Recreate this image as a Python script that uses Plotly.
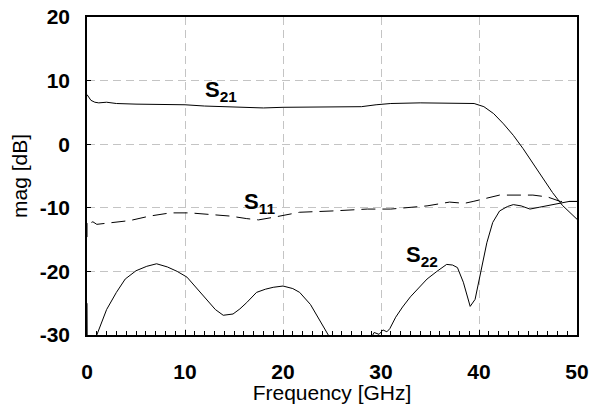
import plotly.graph_objects as go

# Frequency [GHz] / magnitude [dB]
s21_f = [0, 0.15, 0.4, 0.8, 1.2, 2, 3, 5, 8, 10, 12, 14, 16, 18, 20, 24, 28, 29.5, 31, 34, 37, 39.5,
         40.5, 41.5, 42.5, 43.5, 44.5, 45.5, 46.5, 47.5, 48.5, 49.3, 50]
s21_db = [7.8, 7.5, 6.9, 6.6, 6.5, 6.6, 6.4, 6.3, 6.3, 6.2, 6.0, 5.9, 5.9, 5.7, 5.8, 5.8, 5.9, 6.2, 6.4,
          6.5, 6.5, 6.4, 5.9, 4.8, 3.2, 1.4, -0.7, -3.0, -5.3, -7.6, -9.6, -10.7, -11.8]

s11_f = [0, 0, 0.3, 0.6, 1.0, 2.5, 3.9, 4.4, 6.4, 8.5, 10.5, 12.6, 14.6, 16.3, 17.5, 19, 21.7, 25,
         28.6, 31, 34.7, 37, 38.5, 39.4, 42.1, 45.5, 47, 48.3, 50]
s11_db = [-14.6, -12.1, -12.4, -12.2, -12.6, -12.3, -12.0, -12.0, -11.3, -10.8, -10.8, -11.0, -11.3,
          -11.7, -11.9, -11.5, -10.7, -10.5, -10.2, -10.2, -9.7, -9.1, -9.3, -9.0, -8.0, -8.0, -8.3,
          -9.0, -9.0]

s22_f = [0, 0.02, 0.9, 1.0, 2.0, 3.0, 3.9, 5.0, 6.1, 7.1, 8.2, 9.2, 10.2, 11.2, 12.2, 13.1, 13.9, 14.9,
         15.6, 16.3, 17.3, 18.2, 19.0, 20.0, 21.0, 21.7, 22.8, 23.7, 24.5, 25.0, 28.8, 29.3, 29.8,
         30.2, 30.6, 30.9, 31.5, 32.2, 33.0, 33.8, 34.7, 35.7, 36.7, 37.3, 37.8, 38.4, 38.8, 39.1,
         39.6, 40.3, 40.8, 41.4, 42.1, 42.9, 43.5, 44.3, 45.2, 46.2, 47.2, 48.3, 49.2, 50]
s22_db = [-25, -31, -31, -30.0, -26.0, -23.3, -21.2, -19.9, -19.2, -18.8, -19.3, -20.0, -20.9, -22.6,
          -24.4, -26.0, -26.9, -26.7, -25.9, -24.9, -23.3, -22.8, -22.5, -22.3, -22.7, -23.3, -25.2,
          -27.5, -29.6, -31, -31, -29.6, -29.9, -29.2, -29.5, -29.0, -27.2, -25.6, -24.0, -22.6,
          -21.2, -20.0, -18.9, -19.0, -19.4, -21.7, -24.0, -25.5, -24.4, -19.2, -15.5, -12.3, -10.5,
          -9.8, -9.5, -9.7, -10.2, -9.9, -9.6, -9.3, -9.0, -9.0]

x_ticks = [0, 10, 20, 30, 40, 50]
y_ticks = [-30, -20, -10, 0, 10, 20]

labels = [("S<sub>21</sub>", 11.8, 8.3), ("S<sub>11</sub>", 15.8, -9.3), ("S<sub>22</sub>", 32.3, -17.6)]

fig = go.Figure()
line = dict(color="black", width=1)
fig.add_trace(go.Scatter(x=s21_f, y=s21_db, mode="lines", line=line, name="S21"))
fig.add_trace(go.Scatter(x=s11_f, y=s11_db, mode="lines",
                         line=dict(color="black", width=1, dash="14px,7px"), name="S11"))
fig.add_trace(go.Scatter(x=s22_f, y=s22_db, mode="lines", line=line, name="S22"))

for txt, x, y in labels:
    fig.add_annotation(x=x, y=y, text=txt, showarrow=False, xanchor="left", yanchor="middle",
                       font=dict(family="Liberation Sans, Arial", size=22, color="black", weight="bold"))

grid = dict(showgrid=True, gridcolor="#c4c4c4", griddash="8px,5px", gridwidth=1)
fig.update_xaxes(range=[0, 50], tickvals=x_ticks, ticktext=[str(v) for v in x_ticks],
                 showline=True, linecolor="black", linewidth=1.5, mirror=True, automargin=False,
                 ticks="inside", ticklen=5, tickcolor="black", ticklabelstandoff=17,
                 ticklabeloverflow="allow",
                 minor=dict(dtick=1, ticks="inside", ticklen=4, tickcolor="black", showgrid=False),
                 tickfont=dict(family="Liberation Sans, Arial", size=21, color="black", weight="bold"),
                 title=dict(text="Frequency [GHz]", standoff=4,
                            font=dict(family="Liberation Sans, Arial", size=21, color="black")),
                 zeroline=False, **grid)
fig.update_yaxes(range=[-30, 20], tickvals=y_ticks, ticktext=[str(v) for v in y_ticks],
                 showline=True, linecolor="black", linewidth=1.5, mirror=True, automargin=False,
                 ticks="inside", ticklen=4, tickcolor="black", ticklabelstandoff=11,
                 ticklabeloverflow="allow",
                 tickfont=dict(family="Liberation Sans, Arial", size=21, color="black", weight="bold"),
                 title=dict(text="mag [dB]", standoff=6,
                            font=dict(family="Liberation Sans, Arial", size=21, color="black")),
                 zeroline=False, **grid)

fig.update_layout(width=592, height=404, margin=dict(l=87, r=15, t=17, b=69),
                  plot_bgcolor="white", paper_bgcolor="white", showlegend=False)
fig.write_html("out.html", config={"displayModeBar": False},
               post_script="document.body.style.margin='0px';")
